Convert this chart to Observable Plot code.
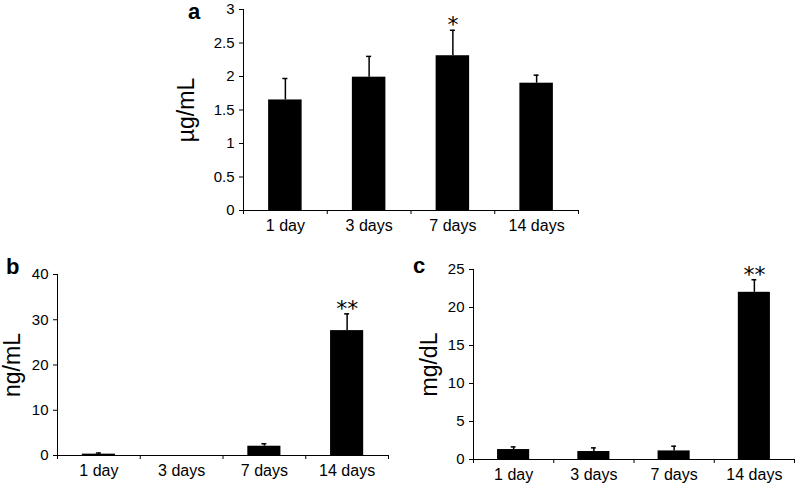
<!DOCTYPE html>
<html>
<head>
<meta charset="utf-8">
<script src="https://cdn.jsdelivr.net/npm/d3@7"></script>
<script src="https://cdn.jsdelivr.net/npm/@observablehq/plot@0.6"></script>
<style>
  html, body { margin: 0; padding: 0; background: #fff; }
  #wrap { position: relative; width: 796px; height: 484px; overflow: hidden; font-family: "Liberation Sans", Arial, sans-serif; }
  .panel { position: absolute; }
  .panel g[aria-label="y-axis tick label"] { font-size: 15px; }
  .panel g[aria-label="x-axis tick label"] { font-size: 16px; }
  .panel g[aria-label="y-axis label"] { font-size: 23px; }
  .panel g[aria-label="text"] { font-family: "DejaVu Sans", sans-serif; font-size: 22px; }
  .letter { position: absolute; font-weight: bold; font-size: 22px; line-height: 14px; color: #000; }
</style>
</head>
<body>
<div id="wrap"></div>
<script>
const categories = ["1 day", "3 days", "7 days", "14 days"];

const aValues = [1.65, 1.99, 2.31, 1.90];
const aErrors = [1.97, 2.30, 2.69, 2.02];
const aStars  = ["", "", "*", ""];
const aTicks  = [0, 0.5, 1, 1.5, 2, 2.5, 3];

const bValues = [0.3, 0, 2.05, 27.6];
const bErrors = [0.55, 0, 2.6, 31.3];
const bStars  = ["", "", "", "**"];
const bTicks  = [0, 10, 20, 30, 40];

const cValues = [1.31, 1.05, 1.13, 22.0];
const cErrors = [1.66, 1.53, 1.75, 23.65];
const cStars  = ["", "", "", "**"];
const cTicks  = [0, 5, 10, 15, 20, 25];

function makePanel({values, errors, stars, ticks, label, width, height, margins, labelOffset}) {
  const rows = categories.map((c, i) => ({c, i, v: values[i], e: errors[i], s: stars[i]}));
  const shown = rows.filter(d => d.v > 0);
  const ymax = ticks[ticks.length - 1];
  return Plot.plot({
    width, height,
    marginLeft: margins[0], marginTop: margins[1], marginRight: margins[2], marginBottom: margins[3],
    style: {fontFamily: '"Liberation Sans", Arial, sans-serif', fontSize: "15px", color: "#000", background: "#fff", overflow: "visible"},
    x: {domain: [0, categories.length], axis: null},
    y: {domain: [0, ymax], axis: null},
    marks: [
      Plot.rectY(shown, {x1: d => d.i + 0.3, x2: d => d.i + 0.7, y1: 0, y2: "v", fill: "#000"}),
      Plot.ruleX(shown, {x: d => d.i + 0.5, y1: "v", y2: "e", stroke: "#000", strokeWidth: 1.5}),
      Plot.ruleY(shown, {x1: d => d.i + 0.47, x2: d => d.i + 0.53, y: "e", stroke: "#000", strokeWidth: 1.5}),
      Plot.text(rows.filter(d => d.s), {x: d => d.i + 0.5, y: "e", text: "s", lineAnchor: "bottom", dy: 2, fill: "#000"}),
      Plot.ruleY([0], {stroke: "#000", strokeWidth: 1}),
      Plot.ruleX([0], {stroke: "#000", strokeWidth: 1}),
      Plot.axisY({ticks, tickSize: 4, tickPadding: 5, tickFormat: d => `${d}`,
        label, labelAnchor: "center", labelArrow: "none", labelOffset}),
      Plot.axisX({ticks: d3.range(categories.length + 1), tickSize: 4, tickFormat: () => ""}),
      Plot.axisX({ticks: categories.map((c, i) => i + 0.5), tickSize: 0, tickPadding: 9,
        tickFormat: d => categories[Math.floor(d)], label: null})
    ]
  });
}

function place(svg, left, top) {
  svg.classList.add("panel");
  svg.style.left = left + "px";
  svg.style.top = top + "px";
  document.getElementById("wrap").appendChild(svg);
}
function letter(t, left, top) {
  const d = document.createElement("div");
  d.className = "letter";
  d.textContent = t;
  d.style.left = left + "px";
  d.style.top = top + "px";
  document.getElementById("wrap").appendChild(d);
}

place(makePanel({values: aValues, errors: aErrors, stars: aStars, ticks: aTicks, label: "µg/mL",
  width: 420, height: 240, margins: [63, 9, 22, 30], labelOffset: 66}), 180, 0);
place(makePanel({values: bValues, errors: bErrors, stars: bStars, ticks: bTicks, label: "ng/mL",
  width: 400, height: 234, margins: [57, 24, 12, 29], labelOffset: 54}), 0, 250);
place(makePanel({values: cValues, errors: cErrors, stars: cStars, ticks: cTicks, label: "mg/dL",
  width: 396, height: 234, margins: [73, 19, 2, 25], labelOffset: 53}), 400, 250);

letter("a", 188, 5);
letter("b", 6, 260);
letter("c", 413, 259);
</script>
</body>
</html>
